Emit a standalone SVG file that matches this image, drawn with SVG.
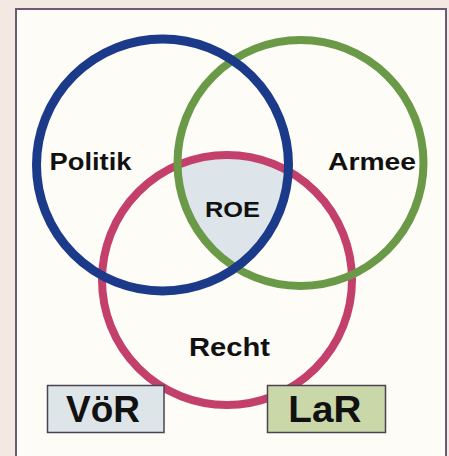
<svg xmlns="http://www.w3.org/2000/svg" width="449" height="456" viewBox="0 0 449 456">
<style>
.lbl{font-family:"Liberation Sans",Arial,sans-serif;font-weight:bold;fill:#111;text-anchor:start}
.ring{fill:none}
.box{stroke:#4a4352;stroke-width:1.5}
</style>
<defs>
<clipPath id="cb"><circle cx="162.5" cy="165" r="126"/></clipPath>
<clipPath id="cg"><circle cx="300.5" cy="163" r="123"/></clipPath>
</defs>
<rect width="449" height="456" fill="#f4e9e2"/>
<rect x="16" y="9" width="430" height="460" fill="#fdfcf7" stroke="#6b5a75" stroke-width="2"/>
<g id="roe-area" clip-path="url(#cb)"><circle cx="227" cy="280" r="125" fill="#dde5ea" clip-path="url(#cg)"/></g>
<g id="recht"><circle class="ring" cx="227" cy="280" r="125" stroke="#c4406c" stroke-width="8"/><text class="lbl" x="189" y="356" font-size="26" textLength="81" lengthAdjust="spacingAndGlyphs">Recht</text></g>
<g id="armee"><circle class="ring" cx="300.5" cy="163" r="123" stroke="#6a9a48" stroke-width="8"/><text class="lbl" x="328" y="170" font-size="24" textLength="88" lengthAdjust="spacingAndGlyphs">Armee</text></g>
<g id="politik"><circle class="ring" cx="162.5" cy="165" r="126" stroke="#1c3a8a" stroke-width="9"/><text class="lbl" x="49.5" y="169.5" font-size="23.5" textLength="82" lengthAdjust="spacingAndGlyphs">Politik</text></g>
<g id="roe"><text class="lbl" x="205" y="216.5" font-size="22" textLength="55" lengthAdjust="spacingAndGlyphs">ROE</text></g>
<g id="voer"><rect class="box" x="47.5" y="385.5" width="116.5" height="47" fill="#dde5e8"/><text class="lbl" x="66" y="421.7" font-size="36" textLength="74" lengthAdjust="spacingAndGlyphs">VöR</text></g>
<g id="lar"><rect class="box" x="267.5" y="385.5" width="118" height="47" fill="#c9d7a9"/><text class="lbl" x="288.3" y="421.7" font-size="36" textLength="73" lengthAdjust="spacingAndGlyphs">LaR</text></g>
</svg>
